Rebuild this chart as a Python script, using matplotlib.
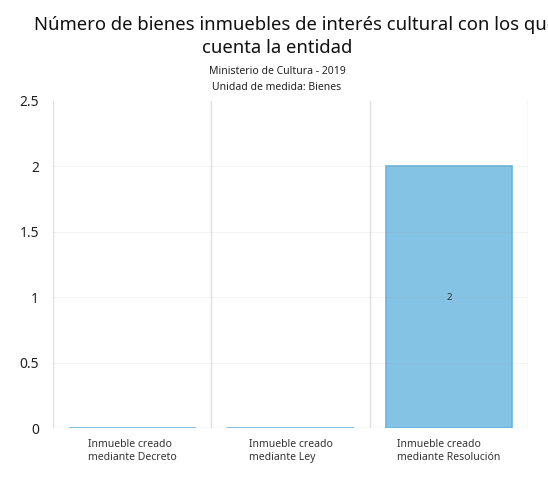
import numpy as np
import matplotlib.pyplot as plt

plt.rcParams['font.family'] = ['Noto Sans', 'DejaVu Sans']

# data
categorias = ['Inmueble creado\nmediante Decreto',
              'Inmueble creado\nmediante Ley',
              'Inmueble creado\nmediante Resolución']
valores = [0, 0, 2]
yticks = [0, 0.5, 1, 1.5, 2, 2.5]
ytick_labels = ['0', '0.5', '1', '1.5', '2', '2.5']

W, H = 548, 486
fig = plt.figure(figsize=(W / 100, H / 100), dpi=100)
ax = fig.add_axes([53 / W, 1 - 428 / H, (528 - 53) / W, (428 - 101) / H])

x = np.arange(len(categorias))
ax.bar(x, valores, width=0.8, color='#84c3e3', edgecolor='#6ab4da', linewidth=1.2, zorder=2)
for xi, v in zip(x, valores):
    if v > 0:
        ax.text(xi, v / 2, str(v), ha='center', va='center', fontsize=7, color='#333333', zorder=4)

ax.set_xlim(-0.5, len(categorias) - 0.5)
ax.set_ylim(0, 2.5)
ax.set_yticks(yticks)
ax.set_yticklabels(ytick_labels, fontsize=10, color='#222222')
ax.set_xticks(x)
ax.set_xticklabels(categorias, fontsize=7.5, color='#333333', multialignment='left')
ax.tick_params(axis='both', length=0)
ax.tick_params(axis='x', pad=8)
ax.tick_params(axis='y', pad=10)

# vertical separators between categories
for b in np.arange(-0.5, len(categorias), 1.0):
    ax.axvline(b, color='#e0e0e0', linewidth=1, zorder=1)
for t in yticks[1:-1]:
    ax.axhline(t, color='#999999', linewidth=0.6, alpha=0.12, zorder=3)

for s in ax.spines.values():
    s.set_visible(False)
ax.axhline(0, color='#dddddd', linewidth=1, zorder=1)

fig.text(34 / W, 1 - 25 / H, 'Número de bienes inmuebles de interés cultural con los que',
         ha='left', va='center', fontsize=13.3, color='#111111')
fig.text(277 / W, 1 - 48 / H, 'cuenta la entidad', ha='center', va='center',
         fontsize=13.3, color='#111111')
fig.text(277 / W, 1 - 72 / H, 'Ministerio de Cultura - 2019', ha='center', va='center',
         fontsize=7.5, color='#222222')
fig.text(277 / W, 1 - 87 / H, 'Unidad de medida: Bienes', ha='center', va='center',
         fontsize=7.5, color='#222222')

fig.savefig('out.png', dpi=100, facecolor='white')
